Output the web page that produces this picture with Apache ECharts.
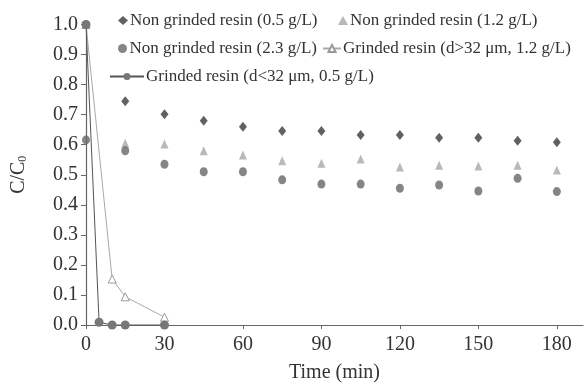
<!DOCTYPE html>
<html><head><meta charset="utf-8">
<script src="https://cdn.jsdelivr.net/npm/echarts@6/dist/echarts.min.js"></script>
<style>html,body{margin:0;padding:0;background:#fff}#c{width:585px;height:385px}</style>
</head><body><div id="c"></div>
<script>
const timesMain = [15,30,45,60,75,90,105,120,135,150,165,180];
const ng05 = [0.745,0.701,0.680,0.660,0.646,0.646,0.632,0.632,0.623,0.623,0.613,0.608];
const ng12 = [0.605,0.602,0.580,0.566,0.547,0.538,0.552,0.526,0.532,0.529,0.532,0.516];
const ng23Times = [0,15,30,45,60,75,90,105,120,135,150,165,180];
const ng23 = [0.616,0.580,0.535,0.510,0.510,0.483,0.469,0.469,0.455,0.466,0.446,0.488,0.444];
const gLtTimes = [0,5,10,15,30];
const gLt = [1.0,0.009,0.0,0.0,0.0];
const gGtTimes = [0,10,15,30];
const gGt = [1.0,0.153,0.094,0.026];
const xTicks = [0,30,60,90,120,150,180];
const names = ['Non grinded resin (0.5 g/L)','Non grinded resin (1.2 g/L)','Non grinded resin (2.3 g/L)','Grinded resin (d>32 \u03bcm, 1.2 g/L)','Grinded resin (d<32 \u03bcm, 0.5 g/L)'];

const zip = (t, v) => t.map((x, i) => [x, v[i]]);
const F = 'Liberation Serif';
const lg = (name, left, top, iw) => ({
  data:[name], left:left, top:top, padding:0, itemWidth:iw, itemHeight:9, itemGap:0,
  textStyle:{fontFamily:F, fontSize:17, color:'#333', padding:[0,0,0,-3]}, selectedMode:false
});
const chart = echarts.init(document.getElementById('c'));
chart.setOption({
  animation:false,
  grid:{left:86, right:2, top:24.5, bottom:60, outerBoundsMode:'none', containLabel:false},
  legend:[
    lg(names[0], 118, 12, 10),
    lg(names[1], 338, 12, 10),
    lg(names[2], 118, 40, 10),
    lg(names[3], 322, 40, 18),
    lg(names[4], 109, 68, 34)
  ],
  xAxis:{type:'value', min:0, max:190, interval:30,
    name:'Time (min)', nameLocation:'middle', nameGap:38,
    nameTextStyle:{fontFamily:F, fontSize:20, color:'#333'},
    splitLine:{show:false},
    axisLine:{lineStyle:{color:'#666', width:1.2}},
    axisTick:{inside:false, length:4, customValues:xTicks, lineStyle:{color:'#666'}},
    axisLabel:{customValues:xTicks, fontFamily:F, fontSize:20, color:'#333', margin:10}
  },
  yAxis:{type:'value', min:0, max:1, interval:0.1,
    name:'C/C{s|0}', nameLocation:'middle', nameGap:57, nameRotate:90,
    nameTextStyle:{fontFamily:F, fontSize:20, color:'#333', rich:{s:{fontFamily:F, fontSize:12, color:'#333', verticalAlign:'bottom', padding:[9,0,0,0]}}},
    splitLine:{show:false},
    axisLine:{show:true, lineStyle:{color:'#666', width:1.2}},
    axisTick:{show:true, inside:false, length:5, lineStyle:{color:'#666'}},
    axisLabel:{fontFamily:F, fontSize:20, color:'#333', margin:8, formatter:v=>v.toFixed(1)}
  },
  series:[
    {name:names[3], type:'line', data:zip(gGtTimes,gGt), symbol:'triangle', symbolSize:8, showAllSymbol:true,
      lineStyle:{color:'#aaa', width:1}, itemStyle:{color:'#fff', borderColor:'#999', borderWidth:1}, z:2},
    {name:names[4], type:'line', data:zip(gLtTimes,gLt), symbol:'circle', symbolSize:9, showAllSymbol:true,
      lineStyle:{color:'#555', width:1}, itemStyle:{color:'#777'}, z:3},
    {name:names[0], type:'scatter', data:zip(timesMain,ng05), symbol:'diamond', symbolSize:[8,10], itemStyle:{color:'#3a3a3a'}},
    {name:names[1], type:'scatter', data:zip(timesMain,ng12), symbol:'triangle', symbolSize:[8,9], itemStyle:{color:'#a8a8a8'}},
    {name:names[2], type:'scatter', data:zip(ng23Times,ng23), symbol:'circle', symbolSize:[8,9], itemStyle:{color:'#666'}}
  ]
});
</script></body></html>
